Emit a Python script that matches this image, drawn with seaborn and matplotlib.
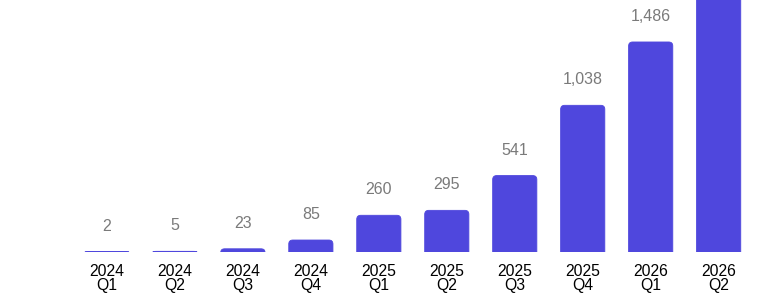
import seaborn as sns
import matplotlib.pyplot as plt
import pandas as pd
from matplotlib.patches import PathPatch
from matplotlib.path import Path

# quarterly values (last bar runs off the top, label not visible)
quarters = ["2024\nQ1", "2024\nQ2", "2024\nQ3", "2024\nQ4",
            "2025\nQ1", "2025\nQ2", "2025\nQ3", "2025\nQ4",
            "2026\nQ1", "2026\nQ2"]
values = [2, 5, 23, 85, 260, 295, 541, 1038, 1486, 2100]

df = pd.DataFrame({"quarter": quarters, "value": values})

sns.set_style("white")
plt.rcParams["font.family"] = ["Liberation Sans", "DejaVu Sans"]

bar_color = "#4F47DD"

fig = plt.figure(figsize=(7.68, 3.07), dpi=100)
ax = fig.add_axes([0.095, 0.179, 0.885, 0.821])

sns.barplot(data=df, x="quarter", y="value", color=bar_color,
            width=0.65, saturation=1, ax=ax)
ax.set_ylim(0, 1783)
ax.set_xlim(-0.5, len(quarters) - 0.5)

# swap plain rectangles for ones with rounded top corners
px_per_x = 0.885 * 768 / len(quarters)
px_per_y = 0.821 * 307 / 1783
rad_px = 4
for p in list(ax.patches):
    x0, w, h = p.get_x(), p.get_width(), p.get_height()
    x1 = x0 + w
    p.set_visible(False)
    rx = rad_px / px_per_x
    ry = min(rad_px / px_per_y, h)
    verts = [(x0, 0), (x1, 0), (x1, h - ry), (x1, h), (x1 - rx, h),
             (x0 + rx, h), (x0, h), (x0, h - ry), (x0, 0)]
    codes = [Path.MOVETO, Path.LINETO, Path.LINETO, Path.CURVE3, Path.CURVE3,
             Path.LINETO, Path.CURVE3, Path.CURVE3, Path.CLOSEPOLY]
    ax.add_patch(PathPatch(Path(verts, codes), facecolor=bar_color,
                           edgecolor=bar_color, linewidth=0.6))

# value labels above bars
for i, v in enumerate(values):
    ax.annotate(f"{v:,}", (i, v), xytext=(0, 13), textcoords="offset points",
                ha="center", va="bottom", fontsize=11.5, color="#7a7a7a")

ax.set_xlabel("")
ax.set_ylabel("")
ax.set_yticks([])
ax.tick_params(axis="x", length=0, pad=8.5, labelsize=11.3, labelcolor="black")
for lab in ax.get_xticklabels():
    lab.set_linespacing(0.92)
sns.despine(left=True, bottom=True)

fig.savefig("out.png", dpi=100)
